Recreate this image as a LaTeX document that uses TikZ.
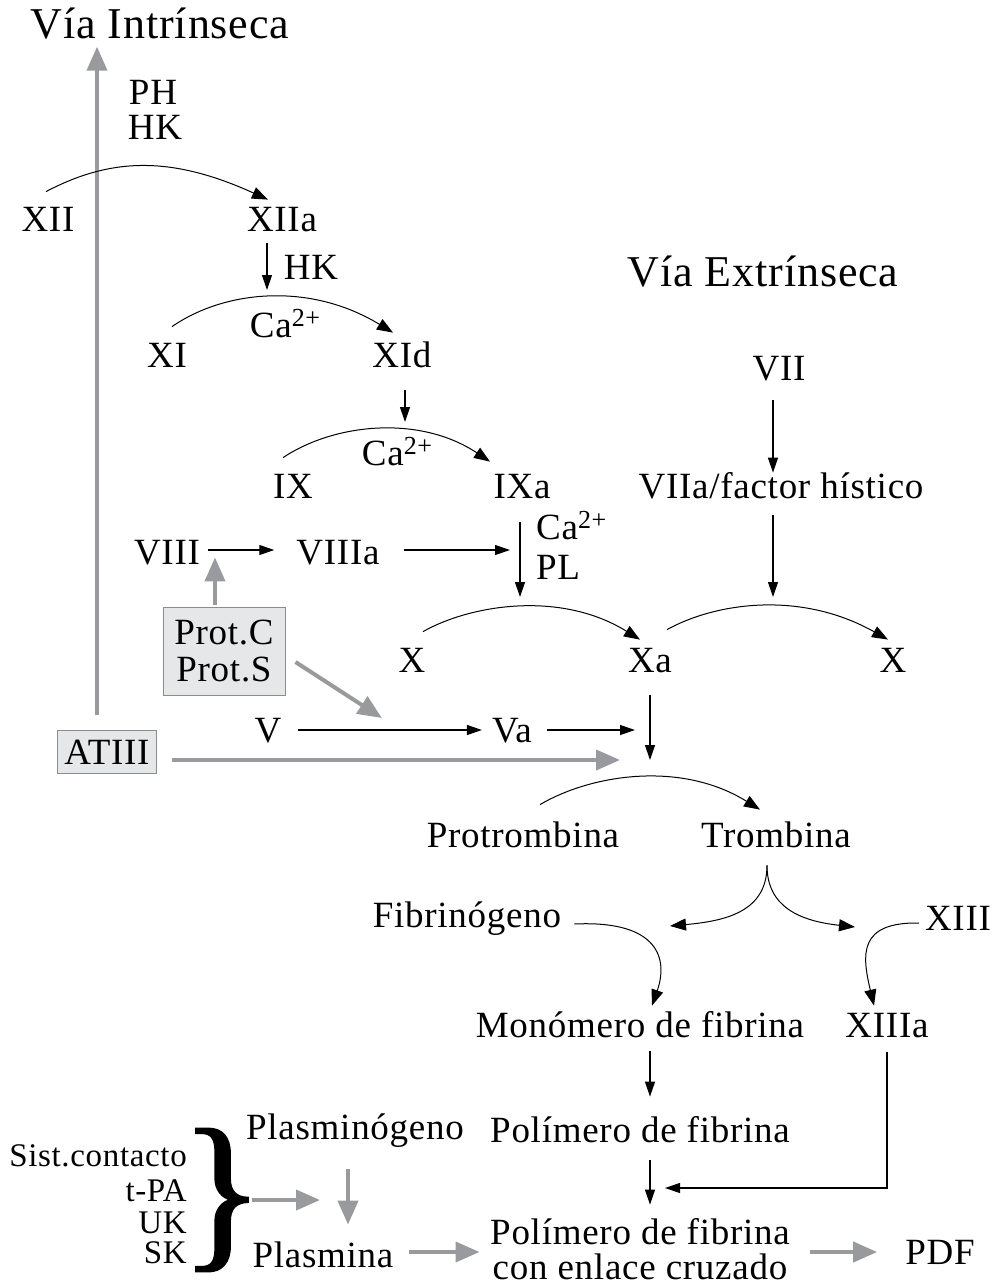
\documentclass[tikz,border=0pt]{standalone}
\usepackage{fontspec}
\setmainfont{Liberation Serif}[LetterSpace=2]
\newfontfamily\bracefont{Liberation Serif}[FakeBold=1.5]
\usetikzlibrary{arrows.meta,calc}
\definecolor{arrowgray}{HTML}{999A9D}
\definecolor{boxgray}{HTML}{E6E7E8}
\definecolor{boxedge}{HTML}{8C8C8C}
% calcium ion with a large raised charge
\newcommand{\calcium}{Ca\raisebox{11pt}{\fontsize{26}{26}\selectfont 2+}}

\begin{document}
\begin{tikzpicture}[x=1pt,y=-1pt,
  lbl/.style={inner sep=0pt, text height=24.4pt, text depth=0pt, font=\fontsize{37}{41}\selectfont},
  ttl/.style={inner sep=0pt, text height=29pt, text depth=0pt, font=\fontsize{44}{48}\selectfont},
  small/.style={inner sep=0pt, text height=22pt, text depth=0pt, font=\fontsize{33}{36}\selectfont, anchor=east},
  blk/.style={line width=1.2pt, -{Triangle[length=15pt,width=10pt]}},
  gry/.style={line width=4pt, arrowgray, -{Triangle[length=24pt,width=20pt]}},
  curve/.style={line width=1pt, -{Triangle[length=16pt,width=12pt]}},
  graybox/.style={draw=boxedge, fill=boxgray, line width=1pt, inner sep=0pt, font=\fontsize{37}{41}\selectfont},
]
\useasboundingbox (0,0) rectangle (992,1285);

% titles
\node[ttl] (intr) at (160,24) {Vía Intrínseca};
\node[ttl] (extr) at (763,272) {Vía Extrínseca};

% intrinsic pathway
\node[lbl] (ph) at (153,92) {PH};
\node[lbl] (hk1) at (155,127) {HK};
\node[lbl] (xii) at (48,219) {XII};
\node[lbl] (xiia) at (282,219) {XIIa};
\node[lbl] (hk2) at (311,267) {HK};
\node[lbl] (ca1) at (285,325) {\calcium};
\node[lbl] (xi) at (167,355) {XI};
\node[lbl] (xid) at (402,355) {XId};
\node[lbl] (ca2) at (397,453) {\calcium};
\node[lbl] (ix) at (293,486) {IX};
\node[lbl] (ixa) at (522,486) {IXa};
\node[lbl, anchor=west] (ca3) at (536,527) {\calcium};
\node[lbl, anchor=west] (pl) at (536,567) {PL};
\node[lbl] (viii) at (167,552) {VIII};
\node[lbl] (viiia) at (338,552) {VIIIa};
\node[graybox, minimum width=122pt, minimum height=88pt, align=center] (prot) at (224,651) {Prot.C\\[-4pt]Prot.S};

% extrinsic pathway
\node[lbl] (vii) at (779,368) {VII};
\node[lbl] (viia) at (781,486) {VIIa/factor hístico};

% common pathway
\node[lbl] (x1) at (412,660) {X};
\node[lbl] (xa) at (650,660) {Xa};
\node[lbl] (x2) at (893,660) {X};
\node[lbl] (v) at (268,730) {V};
\node[lbl] (va) at (512,730) {Va};
\node[graybox, minimum width=99pt, minimum height=43pt] (atiii) at (107,752) {ATIII};
\node[lbl] (protr) at (523,835) {Protrombina};
\node[lbl] (tromb) at (776,835) {Trombina};
\node[lbl] (fibg) at (467,915) {Fibrinógeno};
\node[lbl] (xiii) at (958,918) {XIII};
\node[lbl] (mono) at (640,1025) {Monómero de fibrina};
\node[lbl] (xiiia) at (887,1025) {XIIIa};
\node[lbl] (poli) at (640,1130) {Polímero de fibrina};
\node[lbl] (poli2a) at (640,1232) {Polímero de fibrina};
\node[lbl] (poli2b) at (640,1267) {con enlace cruzado};
\node[lbl] (pdf) at (940,1252) {PDF};

% fibrinolysis
\node[lbl] (plgn) at (355,1127) {Plasminógeno};
\node[lbl] (plas) at (323,1255) {Plasmina};
\node[small] (sc) at (187,1155) {Sist.contacto};
\node[small] (tpa) at (187,1190) {t-PA};
\node[small] (uk) at (187,1222) {UK};
\node[small] (sk) at (187,1252) {SK};
\node[inner sep=0pt] (brace) at (222,1200) {\bracefont\fontsize{172}{172}\selectfont\}};

% junction points on the reaction arcs
\coordinate (pk1) at (267,290);
\coordinate (pk2) at (405,422);
\coordinate (pk3) at (520,597);
\coordinate (pk4) at (650,760);
\coordinate (pk5) at (773,597);
\coordinate (j1) at (510,550);
\coordinate (j2) at (635,730);
\coordinate (j3) at (665,1188);
\coordinate (j4) at (320,1200);
\coordinate (fl) at (670,926);
\coordinate (fr) at (855,927);

% inhibitor arrows
\draw[gry] ($(atiii.north)+(-10,-15)$) -- ($(atiii.north |- intr.south)+(-10,8)$);
\draw[gry] ($(prot.north)+(-9,-2)$) -- ($(viii.south)+(48,-7)$);
\draw[gry] ($(prot.east)+(10,11)$) -- ($(va.west)+(-110,-12)$);
\draw[gry] ($(atiii.east)+(15,8)$) -- ($(pk4)+(-30,0)$);

% reaction arcs
\draw[curve] ($(xii.north)+(-2,-15)$) .. controls (110,158) and (170,155) .. ($(xiia.north)+(-14,-7)$);
\draw[curve] ($(xi.north)+(5,-16)$) .. controls (225,290) and (310,282) .. ($(xid.north)+(-9,-10)$);
\draw[curve] ($(ix.north)+(-10,-16)$) .. controls (335,423) and (420,415) .. ($(ixa.north)+(-32,-12)$);
\draw[curve] ($(x1.north)+(11,-16)$) .. controls (470,605) and (560,590) .. ($(xa.north)+(-10,-8)$);
\draw[curve] ($(xa.north)+(17,-18)$) .. controls (715,603) and (800,590) .. ($(x2.north)+(-5,-8)$);
\draw[curve] ($(protr.north)+(17,-18)$) .. controls (590,775) and (680,760) .. ($(tromb.north)+(-16,-13)$);

% straight steps
\draw[blk] ($(xiia.south)+(-15,12)$) -- (pk1);
\draw[blk] ($(xid.south)+(3,23)$) -- (pk2);
\draw[blk] ($(ixa.south)+(-2,24)$) -- (pk3);
\draw[blk] ($(viii.east)+(8,-2)$) -- ($(viiia.west)+(-22,-2)$);
\draw[blk] ($(viiia.east)+(24,-2)$) -- (j1);
\draw[blk] ($(vii.south)+(-6,20)$) -- ($(viia.north)+(-8,-1)$);
\draw[blk] ($(viia.south)+(-8,17)$) -- (pk5);
\draw[blk] ($(v.east)+(16,0)$) -- ($(va.west)+(-10,0)$);
\draw[blk] ($(va.east)+(15,0)$) -- (j2);
\draw[blk] ($(xa.south)+(0,23)$) -- (pk4);

% thrombin actions
\draw[curve] ($(tromb.south)+(-9,18)$) .. controls (767,912) and (725,921) .. (fl);
\draw[curve] ($(tromb.south)+(-9,18)$) .. controls (767,907) and (800,921) .. (fr);
\draw[curve] ($(fibg.east)+(13,9)$) .. controls (660,920) and (668,960) .. ($(mono.north)+(12,-7)$);
\draw[curve] ($(xiii.west)+(-6,5)$) .. controls (858,922) and (862,955) .. ($(xiiia.north)+(-13,-7)$);
\draw[blk] ($(mono.south)+(10,14)$) -- ($(poli.north)+(10,-21)$);
\draw[blk] ($(xiiia.south)+(0,15)$) |- (j3);
\draw[blk] ($(poli.south)+(10,18)$) -- ($(poli2a.north)+(10,-15)$);

% fibrinolysis arrows
\draw[gry] ($(poli2a.east)+(20,20)$) -- ($(pdf.west)+(-28,0)$);
\draw[gry] ($(plgn.south)+(-7,30)$) -- ($(plas.north)+(25,-18)$);
\draw[gry] ($(plas.east)+(15,-3)$) -- ($(poli2b.west)+(-13,-15)$);
\draw[gry] ($(brace.east)+(-11,0)$) -- (j4);
\end{tikzpicture}
\end{document}
